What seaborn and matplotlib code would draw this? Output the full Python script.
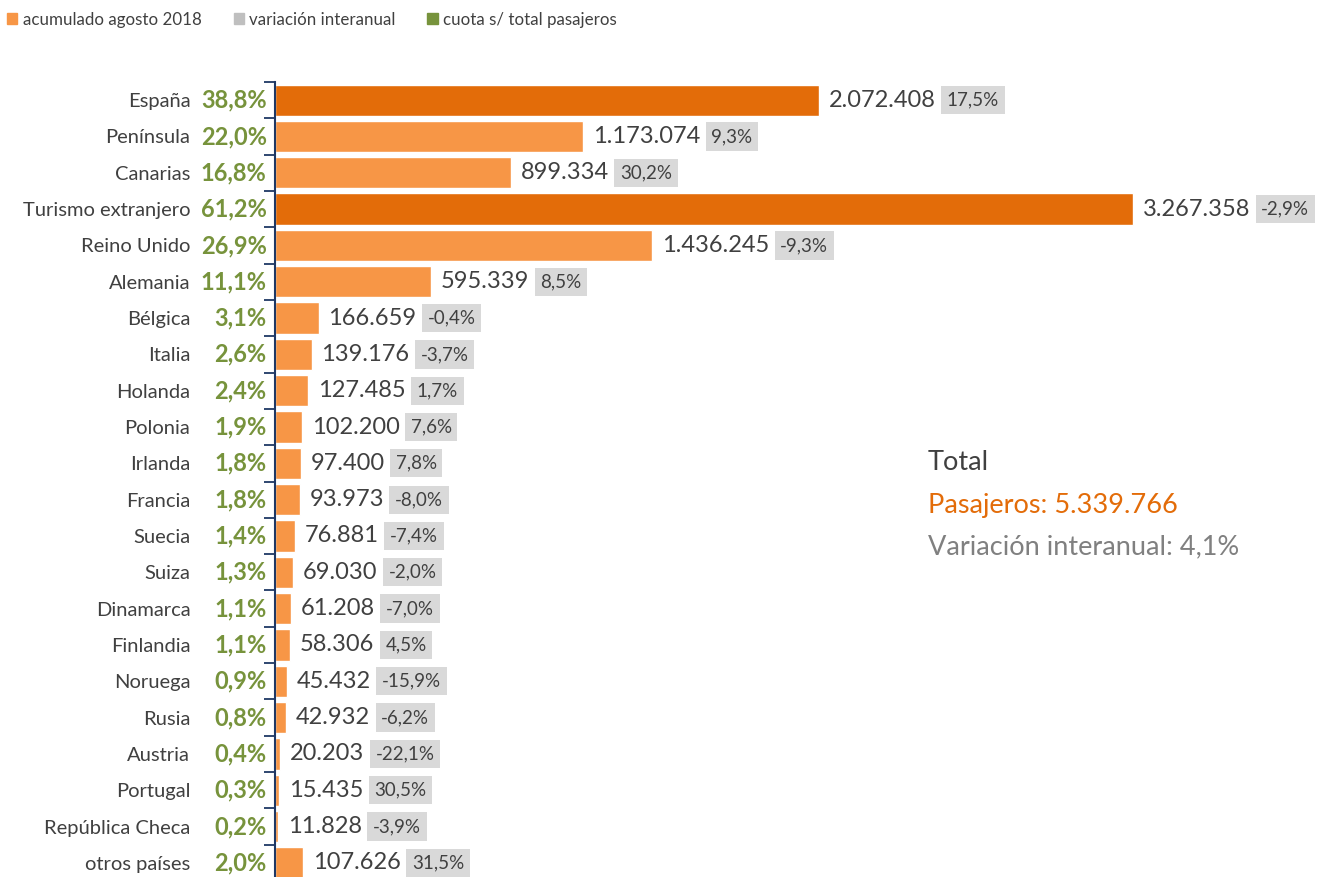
import matplotlib
matplotlib.use("Agg")
import matplotlib.pyplot as plt
from matplotlib.patches import Patch
import seaborn as sns
import pandas as pd

# datos
paises = ["España", "Península", "Canarias", "Turismo extranjero", "Reino Unido",
          "Alemania", "Bélgica", "Italia", "Holanda", "Polonia", "Irlanda",
          "Francia", "Suecia", "Suiza", "Dinamarca", "Finlandia", "Noruega",
          "Rusia", "Austria", "Portugal", "República Checa", "otros países"]
pasajeros = [2072408, 1173074, 899334, 3267358, 1436245, 595339, 166659, 139176,
             127485, 102200, 97400, 93973, 76881, 69030, 61208, 58306, 45432,
             42932, 20203, 15435, 11828, 107626]
variacion = ["17,5%", "9,3%", "30,2%", "-2,9%", "-9,3%", "8,5%", "-0,4%", "-3,7%",
             "1,7%", "7,6%", "7,8%", "-8,0%", "-7,4%", "-2,0%", "-7,0%", "4,5%",
             "-15,9%", "-6,2%", "-22,1%", "30,5%", "-3,9%", "31,5%"]
cuota = ["38,8%", "22,0%", "16,8%", "61,2%", "26,9%", "11,1%", "3,1%", "2,6%",
         "2,4%", "1,9%", "1,8%", "1,8%", "1,4%", "1,3%", "1,1%", "1,1%", "0,9%",
         "0,8%", "0,4%", "0,3%", "0,2%", "2,0%"]
totales = ["España", "Turismo extranjero"]

total_pasajeros = "5.339.766"
total_variacion = "4,1%"

NARANJA_OSC = "#E36C09"
NARANJA = "#F79646"
GRIS = "#D9D9D9"
VERDE = "#77933C"
TEXTO = "#404040"
AZUL = "#1F3864"

df = pd.DataFrame({"pais": paises, "pasajeros": pasajeros})
colores = {p: (NARANJA_OSC if p in totales else NARANJA) for p in paises}

sns.set_theme(style="white")
plt.rcParams["font.family"] = ["Lato", "DejaVu Sans"]

W, H = 1322, 877
fig = plt.figure(figsize=(W / 100, H / 100), dpi=100)
ax = fig.add_axes([275 / W, (877 - 881) / H, (W - 275) / W, (881 - 82) / H])

sns.barplot(data=df, x="pasajeros", y="pais", hue="pais", palette=colores,
            legend=False, width=0.86, orient="h", ax=ax, saturation=1)

ax.set_xlim(0, 3267358 * (W - 275) / 858)
ax.set_ylim(len(paises) - 0.5, -0.5)
ax.set_xlabel("")
ax.set_ylabel("")
ax.xaxis.set_visible(False)
for s in ["top", "right", "bottom"]:
    ax.spines[s].set_visible(False)
ax.spines["left"].set_color(AZUL)
ax.spines["left"].set_linewidth(1.5)

# marcas entre categorias
ax.set_yticks([i - 0.5 for i in range(len(paises) + 1)], minor=True)
ax.tick_params(axis="y", which="minor", length=8, width=1.3, color=AZUL, direction="out", left=True)
ax.tick_params(axis="y", which="major", length=0, pad=61, labelsize=14.5, labelcolor=TEXTO)
ax.set_yticks(range(len(paises)))
ax.set_yticklabels(paises)

# cuota en verde
for i, c in enumerate(cuota):
    ax.annotate(c, xy=(0, i), xytext=(-6, 0), textcoords="offset points",
                ha="right", va="center", fontsize=17, fontweight="bold", color=VERDE)

# valores y variacion
fig.canvas.draw()
renderer = fig.canvas.get_renderer()
for i, (v, var) in enumerate(zip(pasajeros, variacion)):
    txt = f"{v:,}".replace(",", ".")
    t = ax.annotate(txt, xy=(v, i), xytext=(7, 0), textcoords="offset points",
                    ha="left", va="center", fontsize=17, color=TEXTO)
    w = t.get_window_extent(renderer).width * 72 / fig.dpi
    ax.annotate(var, xy=(v, i), xytext=(7 + w + 8, 0), textcoords="offset points",
                ha="left", va="center", fontsize=13.5, color=TEXTO,
                bbox=dict(boxstyle="square,pad=0.3", fc=GRIS, ec="none"))

# totales
fig.text(928 / W, 1 - 463 / H, "Total", fontsize=19.5, color=TEXTO, va="center")
fig.text(928 / W, 1 - 505 / H, "Pasajeros: " + total_pasajeros, fontsize=19.5,
         color=NARANJA_OSC, va="center")
fig.text(928 / W, 1 - 547 / H, "Variación interanual: " + total_variacion,
         fontsize=19.5, color="#808080", va="center")

# leyenda
handles = [Patch(color=NARANJA, label="acumulado agosto 2018"),
           Patch(color="#BFBFBF", label="variación interanual"),
           Patch(color=VERDE, label="cuota s/ total pasajeros")]
leg = fig.legend(handles=handles, loc="upper left", bbox_to_anchor=(-0.006, 1.004), ncol=3,
                 frameon=False, fontsize=12.2, handlelength=0.6, handleheight=0.6,
                 handletextpad=0.3, columnspacing=1.9, labelcolor=TEXTO)

fig.savefig("out.png", dpi=100)
